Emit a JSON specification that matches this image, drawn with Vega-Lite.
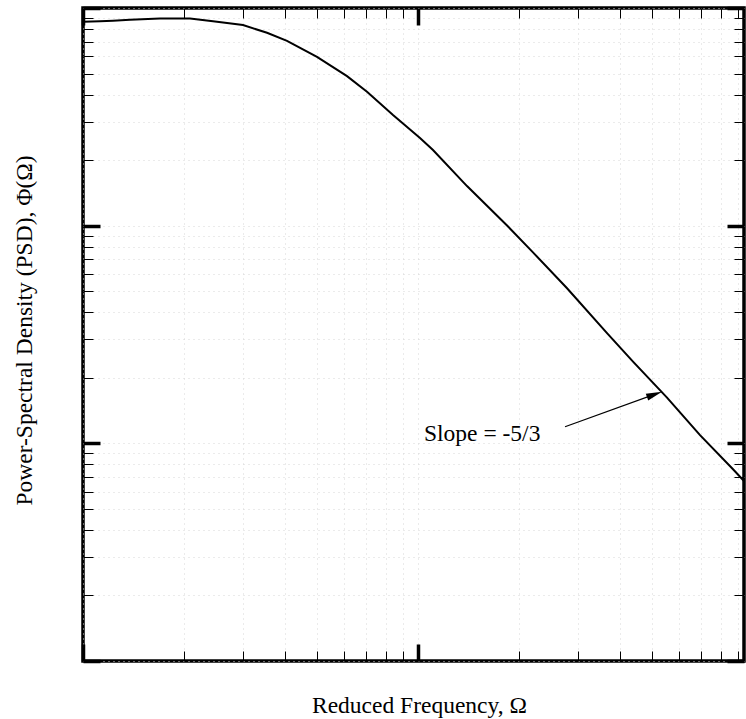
{
  "$schema": "https://vega.github.io/schema/vega-lite/v6.json",
  "width": 661,
  "height": 653,
  "autosize": {"type": "none"},
  "padding": {"left": 83, "top": 8, "right": 2, "bottom": 58},
  "background": "white",
  "config": {
    "view": {"stroke": "black", "strokeWidth": 3.5},
    "axis": {"titleFont": "Liberation Serif", "titleFontWeight": "normal", "titleFontSize": 23.5, "titleColor": "black"}
  },
  "datasets": {
    "psd": [
      {"omega": 1.0, "psd": 0.8642},
      {"omega": 1.1239, "psd": 0.8689},
      {"omega": 1.229, "psd": 0.8735},
      {"omega": 1.3809, "psd": 0.8828},
      {"omega": 1.6976, "psd": 0.8939},
      {"omega": 2.0862, "psd": 0.8958},
      {"omega": 2.4441, "psd": 0.8689},
      {"omega": 3.0032, "psd": 0.8345},
      {"omega": 3.5424, "psd": 0.7692},
      {"omega": 4.0639, "psd": 0.7068},
      {"omega": 4.994, "psd": 0.5967},
      {"omega": 6.1393, "psd": 0.4866},
      {"omega": 7.0429, "psd": 0.4121},
      {"omega": 8.4213, "psd": 0.3222},
      {"omega": 10.138, "psd": 0.2526},
      {"omega": 11.085, "psd": 0.2225},
      {"omega": 14.005, "psd": 0.152},
      {"omega": 18.442, "psd": 0.1002},
      {"omega": 22.04, "psd": 0.0754},
      {"omega": 27.855, "psd": 0.05159},
      {"omega": 36.663, "psd": 0.03211},
      {"omega": 43.836, "psd": 0.02373},
      {"omega": 55.377, "psd": 0.01623},
      {"omega": 69.481, "psd": 0.010906},
      {"omega": 87.17, "psd": 0.007604},
      {"omega": 93.99, "psd": 0.006712}
    ],
    "arrow": [
      {"x": 27.474, "y": 0.01192, "x2": 50.82, "y2": 0.016778}
    ],
    "head": [
      {"x": 50.82, "y": 0.016778}
    ],
    "label": [
      {"x": 10.421, "y": 0.010279, "text": "Slope = -5/3"}
    ]
  },
  "resolve": {"axis": {"x": "independent", "y": "independent"}},
  "layer": [
    {
      "data": {"name": "psd"},
      "mark": {"type": "line", "color": "black", "strokeWidth": 2, "clip": true},
      "encoding": {
        "x": {
          "field": "omega", "type": "quantitative",
          "scale": {"type": "log", "domain": [1, 94], "nice": false},
          "axis": {
            "orient": "bottom",
            "values": [1, 2, 3, 4, 5, 6, 7, 8, 9, 10, 20, 30, 40, 50, 60, 70, 80, 90],
            "labels": false, "domain": false,
            "tickColor": "black",
            "tickSize": {"condition": {"test": "abs(log(datum.value)/LN10 - round(log(datum.value)/LN10)) < 0.001", "value": -17}, "value": -10},
            "tickWidth": {"condition": {"test": "abs(log(datum.value)/LN10 - round(log(datum.value)/LN10)) < 0.001", "value": 3.5}, "value": 1},
            "grid": true, "gridColor": "#d6d6d6", "gridDash": [1, 4], "gridWidth": 1,
            "title": "Reduced Frequency, Ω",
            "titleX": 336, "titleY": 51, "titleAlign": "center", "titleBaseline": "alphabetic"
          }
        },
        "y": {
          "field": "psd", "type": "quantitative",
          "scale": {"type": "log", "domain": [0.001, 1], "nice": false},
          "axis": {
            "orient": "left",
            "values": [0.001, 0.002, 0.003, 0.004, 0.005, 0.006, 0.007, 0.008, 0.009, 0.01, 0.02, 0.03, 0.04, 0.05, 0.06, 0.07, 0.08, 0.09, 0.1, 0.2, 0.3, 0.4, 0.5, 0.6, 0.7, 0.8, 0.9, 1],
            "labels": false, "domain": false,
            "tickColor": "black",
            "tickSize": {"condition": {"test": "abs(log(datum.value)/LN10 - round(log(datum.value)/LN10)) < 0.001", "value": -17}, "value": -10},
            "tickWidth": {"condition": {"test": "abs(log(datum.value)/LN10 - round(log(datum.value)/LN10)) < 0.001", "value": 3.5}, "value": 1},
            "grid": true, "gridColor": "#d6d6d6", "gridDash": [1, 4], "gridWidth": 1,
            "title": "Power-Spectral Density (PSD), Φ(Ω)",
            "titleAngle": -90,
            "titleX": -51.5, "titleY": 322, "titleAlign": "center", "titleBaseline": "alphabetic"
          }
        }
      }
    },
    {
      "data": {"name": "arrow"},
      "mark": {"type": "rule", "color": "black", "strokeWidth": 1.2},
      "encoding": {
        "x": {
          "field": "x", "type": "quantitative",
          "scale": {"type": "log", "domain": [1, 94], "nice": false},
          "axis": {
            "orient": "top",
            "values": [1, 2, 3, 4, 5, 6, 7, 8, 9, 10, 20, 30, 40, 50, 60, 70, 80, 90],
            "labels": false, "domain": false, "grid": false, "title": null,
            "tickColor": "black",
            "tickSize": {"condition": {"test": "abs(log(datum.value)/LN10 - round(log(datum.value)/LN10)) < 0.001", "value": -17}, "value": -10},
            "tickWidth": {"condition": {"test": "abs(log(datum.value)/LN10 - round(log(datum.value)/LN10)) < 0.001", "value": 3.5}, "value": 1}
          }
        },
        "y": {
          "field": "y", "type": "quantitative",
          "scale": {"type": "log", "domain": [0.001, 1], "nice": false},
          "axis": {
            "orient": "right",
            "values": [0.001, 0.002, 0.003, 0.004, 0.005, 0.006, 0.007, 0.008, 0.009, 0.01, 0.02, 0.03, 0.04, 0.05, 0.06, 0.07, 0.08, 0.09, 0.1, 0.2, 0.3, 0.4, 0.5, 0.6, 0.7, 0.8, 0.9, 1],
            "labels": false, "domain": false, "grid": false, "title": null,
            "tickColor": "black",
            "tickSize": {"condition": {"test": "abs(log(datum.value)/LN10 - round(log(datum.value)/LN10)) < 0.001", "value": -17}, "value": -10},
            "tickWidth": {"condition": {"test": "abs(log(datum.value)/LN10 - round(log(datum.value)/LN10)) < 0.001", "value": 3.5}, "value": 1}
          }
        },
        "x2": {"field": "x2"},
        "y2": {"field": "y2"}
      }
    },
    {
      "data": {"name": "head"},
      "mark": {"type": "point", "shape": "M1,0L-1,-0.45L-1,0.45Z", "size": 256, "angle": 340.2, "filled": true, "color": "black", "opacity": 1, "strokeWidth": 0},
      "encoding": {
        "x": {"field": "x", "type": "quantitative", "axis": null},
        "y": {"field": "y", "type": "quantitative", "axis": null}
      }
    },
    {
      "data": {"name": "label"},
      "mark": {"type": "text", "font": "Liberation Serif", "fontSize": 23.5, "align": "left", "baseline": "alphabetic", "color": "black"},
      "encoding": {
        "x": {"field": "x", "type": "quantitative", "axis": null},
        "y": {"field": "y", "type": "quantitative", "axis": null},
        "text": {"field": "text"}
      }
    }
  ]
}
